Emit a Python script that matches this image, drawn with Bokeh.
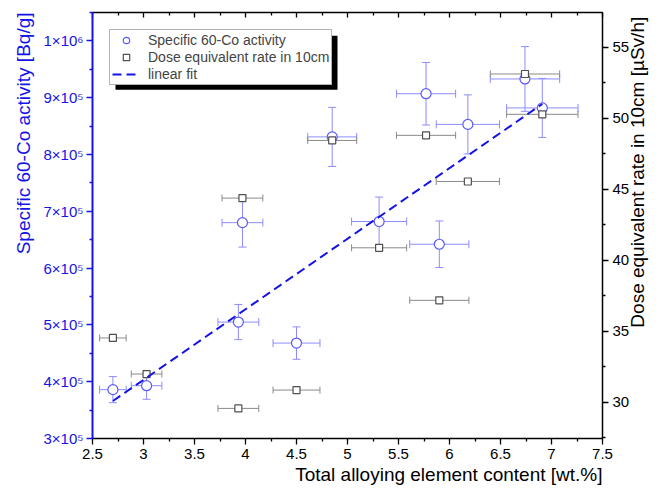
import math
from bokeh.plotting import figure
from bokeh.models import (Range1d, LinearAxis, FixedTicker, Whisker, ColumnDataSource,
                          Legend, LegendItem, BoxAnnotation, TeeHead, Title)
from bokeh.embed import file_html
from bokeh.resources import INLINE

# ---- data ----
alloy = [2.70, 3.03, 3.93, 3.97, 4.50, 4.85, 5.31, 5.90, 5.77, 6.18, 6.74, 6.91]
alloy_err = [0.13, 0.15, 0.20, 0.20, 0.23, 0.24, 0.27, 0.29, 0.29, 0.31, 0.34, 0.35]
activity = [3.86e5, 3.93e5, 5.05e5, 6.80e5, 4.68e5, 8.31e5, 6.82e5, 6.42e5, 9.07e5, 8.53e5, 9.33e5, 8.82e5]
activity_err = [2.3e4, 2.4e4, 3.1e4, 4.3e4, 2.85e4, 5.2e4, 4.3e4, 4.1e4, 5.5e4, 5.2e4, 5.7e4, 5.2e4]
dose = [34.53, 31.99, 29.57, 44.38, 30.86, 48.44, 40.88, 37.18, 48.80, 45.55, 53.12, 50.28]
fit_x = [2.70, 6.91]
fit_y = [3.66e5, 8.89e5]

x_major = [2.5, 3.0, 3.5, 4.0, 4.5, 5.0, 5.5, 6.0, 6.5, 7.0, 7.5]
x_minor = [2.75, 3.25, 3.75, 4.25, 4.75, 5.25, 5.75, 6.25, 6.75, 7.25]
y_major = [3e5, 4e5, 5e5, 6e5, 7e5, 8e5, 9e5, 1e6]
y_minor = [3.5e5, 4.5e5, 5.5e5, 6.5e5, 7.5e5, 8.5e5, 9.5e5, 1.05e6]
y_labels = ["3×10⁵", "4×10⁵", "5×10⁵", "6×10⁵", "7×10⁵", "8×10⁵", "9×10⁵", "1×10⁶"]
r_major = [30, 35, 40, 45, 50, 55]
r_minor = [27.5, 32.5, 37.5, 42.5, 47.5, 52.5, 57.5]

x_title = "Total alloying element content [wt.%]"
y_title = "Specific 60-Co activity [Bq/g]"
r_title = "Dose equivalent rate in 10cm [µSv/h]"
legend_labels = ["Specific 60-Co activity", "Dose equivalent rate in 10cm", "linear fit"]

FONT = "Liberation Sans"
BLUE = "#1414e6"
MARK_BLUE = "#5a5aff"
ERR_BLUE = "#8c8cff"
GREY = "#8a8a8a"
SQ = "#505050"


def setp(obj, **kw):
    for k, v in kw.items():
        try:
            setattr(obj, k, v)
        except Exception:
            pass


p = figure(width=661, height=492, x_range=Range1d(2.5, 7.5), y_range=Range1d(3e5, 1.05e6),
           output_backend="svg", toolbar_location=None, title=None,
           min_border_left=92, min_border_right=58, min_border_top=12, min_border_bottom=54)
p.grid.visible = False
p.outline_line_color = "black"
p.extra_y_ranges = {"dose": Range1d(27.45, 57.45)}

src = ColumnDataSource(dict(
    x=alloy, y=activity, d=dose,
    xl=[a - e for a, e in zip(alloy, alloy_err)],
    xu=[a + e for a, e in zip(alloy, alloy_err)],
    yl=[a - e for a, e in zip(activity, activity_err)],
    yu=[a + e for a, e in zip(activity, activity_err)],
))

# blue error bars
p.add_layout(Whisker(source=src, base="x", lower="yl", upper="yu", dimension="height",
                     line_color=ERR_BLUE, line_width=1,
                     lower_head=TeeHead(size=8, line_color=ERR_BLUE, line_width=1),
                     upper_head=TeeHead(size=8, line_color=ERR_BLUE, line_width=1)))
p.add_layout(Whisker(source=src, base="y", lower="xl", upper="xu", dimension="width",
                     line_color=ERR_BLUE, line_width=1,
                     lower_head=TeeHead(size=8, line_color=ERR_BLUE, line_width=1),
                     upper_head=TeeHead(size=8, line_color=ERR_BLUE, line_width=1)))
r_act = p.scatter("x", "y", source=src, marker="circle", size=10, fill_color="white",
                  line_color=MARK_BLUE, line_width=1.2)

r_dose = p.scatter("x", "d", source=src, marker="square", size=7, fill_color="white",
                   line_color=SQ, line_width=1.2, y_range_name="dose")
p.add_layout(Whisker(source=src, base="d", lower="xl", upper="xu", dimension="width",
                     y_range_name="dose", line_color=GREY, line_width=1,
                     lower_head=TeeHead(size=7, line_color=GREY, line_width=1),
                     upper_head=TeeHead(size=7, line_color=GREY, line_width=1)))

r_fit = p.line(fit_x, fit_y, line_color=BLUE, line_width=2, line_dash="9 5")

# axes
xa = p.xaxis[0]
xa.ticker = FixedTicker(ticks=x_major, minor_ticks=x_minor)
ya = p.yaxis[0]
ya.ticker = FixedTicker(ticks=y_major, minor_ticks=y_minor)
ya.major_label_overrides = {v: s for v, s in zip(y_major, y_labels)}

ra = LinearAxis(y_range_name="dose", ticker=FixedTicker(ticks=r_major, minor_ticks=r_minor))
p.add_layout(ra, "right")
ta = LinearAxis(ticker=FixedTicker(ticks=x_major, minor_ticks=x_minor))
p.add_layout(ta, "above")

for ax in (xa, ya, ra, ta):
    ax.major_label_text_font = FONT
    ax.major_label_text_font_size = "15px"
    ax.axis_label_text_font = FONT
    ax.axis_label_text_font_size = "19px"
    ax.axis_label_text_font_style = "normal"
    ax.axis_line_width = 1.5
    ax.major_tick_line_width = 1.3
    ax.minor_tick_line_width = 1.3
    ax.major_tick_out = 6
    ax.major_tick_in = 0
    ax.minor_tick_out = 3
    ax.minor_tick_in = 0
    ax.major_label_standoff = 4
    ax.axis_line_color = "black"
    ax.major_tick_line_color = "black"
    ax.minor_tick_line_color = "black"
    ax.major_label_text_color = "black"
    ax.axis_label_text_color = "black"

for attr in ("axis_line_color", "major_tick_line_color", "minor_tick_line_color",
             "major_label_text_color"):
    setattr(ya, attr, BLUE)
ya.axis_line_width = 2
ya.major_label_standoff = 3
ra.major_label_standoff = 4

# right-axis title: read bottom-to-top, starting from the lower part of the axis
ra.axis_label = "\u00a0" * 21 + r_title
ra.axis_label_standoff = 5
setp(ra, axis_label_orientation=math.pi / 2)
setp(ra, axis_label_align="start")

ta.major_tick_out = 0
ta.major_tick_in = 5
ta.minor_tick_out = 0
ta.minor_tick_in = 3
ta.major_label_text_font_size = "0px"
ta.major_label_standoff = 0
ta.major_label_overrides = {v: "" for v in x_major}

# bottom and left titles, aligned to the axis end as in the reference
p.add_layout(Title(text=x_title, align="right", text_font=FONT, text_font_size="19px",
                   text_font_style="normal", text_color="black", standoff=0, offset=0),
             "below")
p.add_layout(Title(text=y_title, align="right", text_font=FONT, text_font_size="19px",
                   text_font_style="normal", text_color=BLUE, standoff=14, offset=0),
             "left")

# legend shadow
p.add_layout(BoxAnnotation(left=23, right=245, top=402.7, bottom=348.7,
                           left_units="screen", right_units="screen",
                           top_units="screen", bottom_units="screen",
                           fill_color="black", fill_alpha=1, line_color=None,
                           level="overlay"))

legend = Legend(items=[LegendItem(label=legend_labels[0], renderers=[r_act]),
                       LegendItem(label=legend_labels[1], renderers=[r_dose]),
                       LegendItem(label=legend_labels[2], renderers=[r_fit])],
                location="top_left", margin=17, padding=2, spacing=1,
                glyph_width=28, glyph_height=16, label_height=16, label_standoff=8,
                label_text_font=FONT, label_text_font_size="14px",
                border_line_color="#666666", border_line_width=1,
                background_fill_color="white", background_fill_alpha=1,
                level="overlay")
p.add_layout(legend, "center")

open("out.html", "w").write(file_html(p, INLINE))
